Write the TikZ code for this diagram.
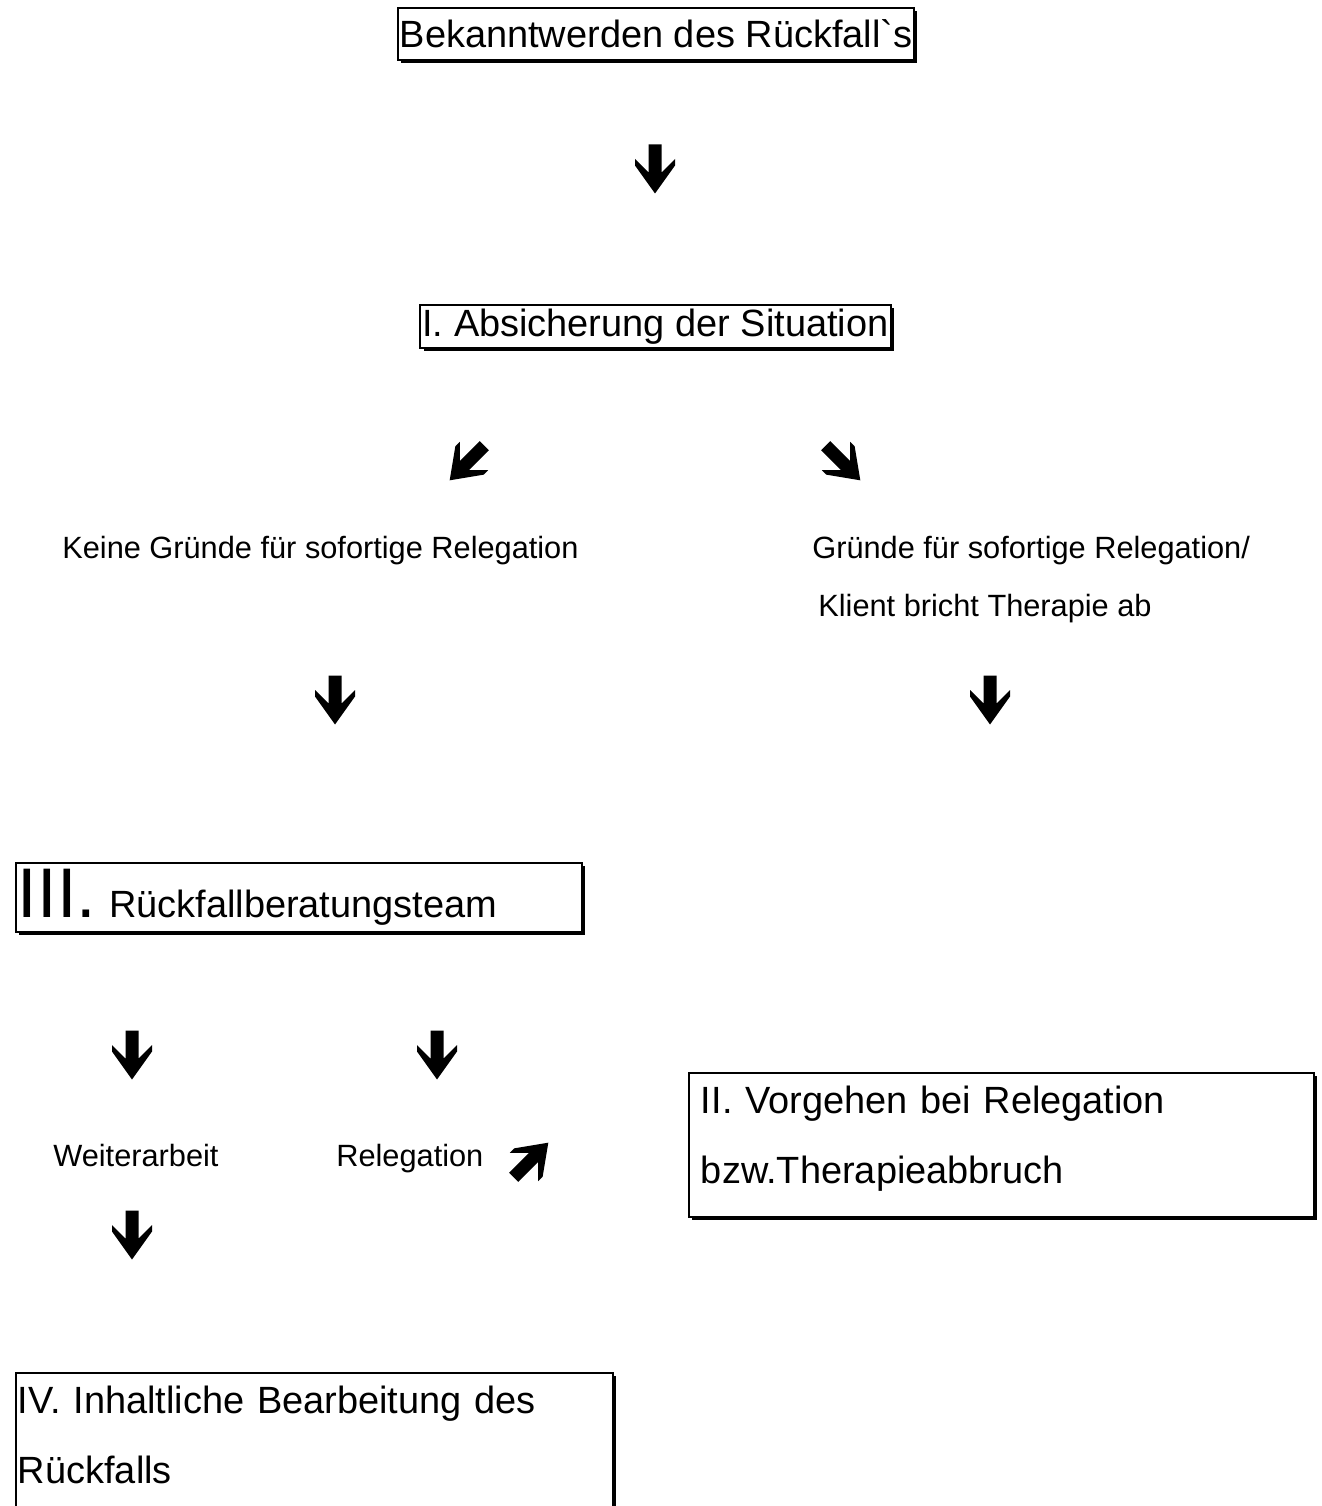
\documentclass[tikz,border=0pt]{standalone}
\usepackage{fontspec}
\setmainfont{Liberation Sans}[Ligatures=TeXOff]
\usetikzlibrary{shadows}

\newcommand\boxfont{\fontsize{21.6pt}{39.6pt}\selectfont}
\newcommand\notefont{\fontsize{17.5pt}{22pt}\selectfont}
\newcommand\romanbig{\fontsize{40pt}{44pt}\selectfont}

\tikzset{
  stagebox/.style={draw, line width=1.1pt, fill=white, inner xsep=0.04cm, inner ysep=0pt,
    drop shadow={shadow xshift=1.8pt, shadow yshift=-1.8pt, opacity=1, fill=black},
    font=\boxfont},
  note/.style={anchor=base west, inner sep=0pt, font=\notefont},
  chevarrow/.pic={
    \fill (-6.5,-24.5) -- (6.5,-24.5) -- (6.5,3.5) -- (20,-10) -- (20,-3.5) -- (0,24.5)
      -- (-20,-3.5) -- (-20,-10) -- (-6.5,3.5) -- cycle;
  }
}

\begin{document}
\begin{tikzpicture}[x=0.02cm, y=-0.02cm]
  \useasboundingbox (0,0) rectangle (1321,1506);
  \clip (0,0) rectangle (1321,1506);

  % boxes
  \node[stagebox, minimum width=10.28cm, minimum height=1.04cm] (known) at (656,34) {Bekanntwerden des Rückfall`s};
  \node[stagebox, minimum width=9.38cm, minimum height=0.86cm] (secure) at (655.5,326.5) {I. Absicherung der Situation};
  \node[stagebox, anchor=north west, text width=11.24cm, minimum height=1.38cm, align=left] (team) at (15,862)
    {{\romanbig III.}\hspace{0.26cm}Rückfallberatungsteam};
  \node[stagebox, anchor=north west, text width=12.02cm, inner xsep=0.24cm, inner ysep=0.26cm, align=left]
    (relegate) at (688,1072) {II. Vorgehen bei Relegation\\bzw.Therapieabbruch\\[-0.98cm]\mbox{}};
  \node[stagebox, anchor=north west, text width=11.86cm, inner ysep=0.26cm, align=left] (work) at (15,1372)
    {IV. Inhaltliche Bearbeitung des\\Rückfalls\\[1cm]\mbox{}};

  % notes
  \node[note] (nogrounds) at (62,558) {Keine Gründe für sofortige Relegation};
  \node[note] (grounds) at (812,558) {Gründe für sofortige Relegation/};
  \node[note] (quits) at (818,616) {Klient bricht Therapie ab};
  \node[note] (goon) at (53,1166) {Weiterarbeit};
  \node[note] (relegation) at (336,1166) {Relegation};

  % arrows
  \pic at (655,169) {chevarrow};
  \pic[rotate=-45] at (467,463) {chevarrow};
  \pic[rotate=45] at (843,463) {chevarrow};
  \pic at (335,700) {chevarrow};
  \pic at (990,700) {chevarrow};
  \pic at (132,1055) {chevarrow};
  \pic at (437,1055) {chevarrow};
  \pic[rotate=135] at (531,1160) {chevarrow};
  \pic at (132,1235) {chevarrow};
\end{tikzpicture}
\end{document}
